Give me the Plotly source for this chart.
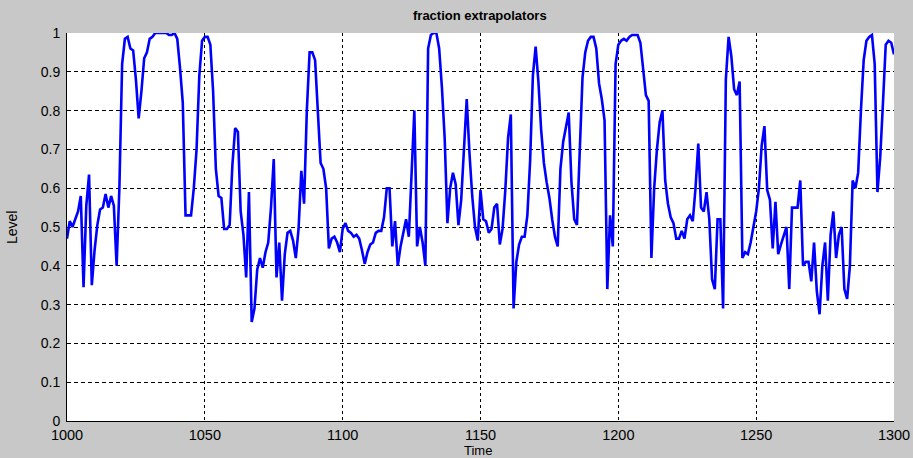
import numpy as np
import plotly.graph_objects as go

# ---- data ----
time = list(range(1000, 1301))
level = [
    0.47, 0.515, 0.50, 0.52, 0.54, 0.58, 0.345, 0.555, 0.635, 0.35,      # 1000-1009
    0.44, 0.505, 0.545, 0.55, 0.585, 0.55, 0.58, 0.555, 0.40, 0.60,      # 1010-1019
    0.92, 0.985, 0.99, 0.96, 0.955, 0.88, 0.78, 0.85, 0.935, 0.95,       # 1020-1029
    0.985, 0.99, 1.0, 1.0, 1.0, 1.0, 1.0, 0.995, 0.995, 1.0,             # 1030-1039
    0.985, 0.91, 0.82, 0.53, 0.53, 0.53, 0.60, 0.70, 0.89, 0.98,         # 1040-1049
    0.99, 0.99, 0.97, 0.85, 0.65, 0.58, 0.575, 0.495, 0.495, 0.505,      # 1050-1059
    0.66, 0.755, 0.745, 0.54, 0.48, 0.37, 0.59, 0.255, 0.29, 0.39,       # 1060-1069
    0.42, 0.395, 0.435, 0.46, 0.55, 0.675, 0.37, 0.46, 0.31, 0.43,       # 1070-1079
    0.485, 0.49, 0.465, 0.42, 0.495, 0.645, 0.56, 0.80, 0.95, 0.95,      # 1080-1089
    0.93, 0.78, 0.665, 0.65, 0.60, 0.445, 0.47, 0.475, 0.46, 0.435,      # 1090-1099
    0.495, 0.51, 0.49, 0.485, 0.475, 0.48, 0.47, 0.44, 0.405, 0.435,     # 1100-1109
    0.455, 0.46, 0.485, 0.49, 0.49, 0.525, 0.60, 0.60, 0.45, 0.515,      # 1110-1119
    0.40, 0.45, 0.485, 0.52, 0.475, 0.66, 0.80, 0.45, 0.50, 0.46,        # 1120-1129
    0.40, 0.96, 0.995, 1.0, 1.0, 0.96, 0.86, 0.73, 0.51, 0.60,           # 1130-1139
    0.64, 0.61, 0.505, 0.57, 0.70, 0.83, 0.69, 0.58, 0.50, 0.465,        # 1140-1149
    0.595, 0.52, 0.515, 0.485, 0.495, 0.55, 0.56, 0.455, 0.495, 0.595,   # 1150-1159
    0.73, 0.79, 0.29, 0.41, 0.455, 0.475, 0.475, 0.53, 0.67, 0.89,       # 1160-1169
    0.965, 0.875, 0.75, 0.665, 0.615, 0.575, 0.52, 0.475, 0.45, 0.65,    # 1170-1179
    0.72, 0.755, 0.795, 0.615, 0.52, 0.505, 0.70, 0.885, 0.95, 0.98,     # 1180-1189
    0.99, 0.99, 0.96, 0.87, 0.83, 0.775, 0.34, 0.53, 0.45, 0.92,         # 1190-1199
    0.97, 0.98, 0.985, 0.98, 0.99, 0.995, 0.995, 0.995, 0.975, 0.91,     # 1200-1209
    0.84, 0.825, 0.42, 0.60, 0.70, 0.77, 0.80, 0.62, 0.56, 0.525,        # 1210-1219
    0.51, 0.47, 0.47, 0.49, 0.47, 0.52, 0.53, 0.515, 0.60, 0.715,        # 1220-1229
    0.55, 0.54, 0.59, 0.52, 0.365, 0.34, 0.52, 0.52, 0.29, 0.88,         # 1230-1239
    0.99, 0.94, 0.855, 0.84, 0.875, 0.42, 0.435, 0.43, 0.46, 0.50,       # 1240-1249
    0.54, 0.60, 0.71, 0.76, 0.595, 0.57, 0.445, 0.565, 0.43, 0.455,      # 1250-1259
    0.48, 0.50, 0.34, 0.55, 0.55, 0.55, 0.62, 0.40, 0.41, 0.41,          # 1260-1269
    0.36, 0.46, 0.335, 0.275, 0.40, 0.46, 0.31, 0.48, 0.54, 0.42,        # 1270-1279
    0.48, 0.50, 0.34, 0.315, 0.40, 0.62, 0.60, 0.64, 0.80, 0.93,         # 1280-1289
    0.98, 0.99, 0.995, 0.92, 0.59, 0.68, 0.82, 0.97, 0.98, 0.975,        # 1290-1299
    0.945,                                                               # 1300
]
x_ticks = [1000, 1050, 1100, 1150, 1200, 1250, 1300]
y_ticks = [0, 0.1, 0.2, 0.3, 0.4, 0.5, 0.6, 0.7, 0.8, 0.9, 1]
y_tick_labels = ["0", "0.1", "0.2", "0.3", "0.4", "0.5", "0.6", "0.7", "0.8", "0.9", "1"]
title_text = "fraction extrapolators"
x_title = "Time"
y_title = "Level"

assert len(level) == len(time)

fig = go.Figure()
fig.add_trace(go.Scatter(
    x=time, y=level, mode="lines",
    line=dict(color="#0000ff", width=2.6),
    showlegend=False, hoverinfo="x+y",
))

font_family = "Liberation Sans, Arial, sans-serif"
W, H = 913, 458
ML, MR, MT, MB = 67, 19, 33, 37
PW, PH = W - ML - MR, H - MT - MB


def px_to_paper(px, py):
    return (px - ML) / PW, (H - MB - py) / PH


fig.update_layout(
    width=W, height=H,
    paper_bgcolor="#c8c8c8",
    plot_bgcolor="#ffffff",
    margin=dict(l=ML, r=MR, t=MT, b=MB, autoexpand=False),
    font=dict(family=font_family, size=14, color="#000000"),
    showlegend=False,
)

tx, ty = px_to_paper(480, 16)
xx, xy = px_to_paper(478, 450.5)
yx, yy = px_to_paper(12, 228)
fig.add_annotation(text="<b>" + title_text + "</b>", x=tx, y=ty, xref="paper", yref="paper",
                   xanchor="center", yanchor="middle", showarrow=False,
                   font=dict(size=13, color="#000000"))
fig.add_annotation(text=x_title, x=xx, y=xy, xref="paper", yref="paper",
                   xanchor="center", yanchor="middle", showarrow=False, borderpad=0,
                   font=dict(size=13, color="#000000"))
fig.add_annotation(text=y_title, x=yx, y=yy, xref="paper", yref="paper",
                   xanchor="center", yanchor="middle", showarrow=False, textangle=-90,
                   font=dict(size=14, color="#000000"))

fig.update_xaxes(
    range=[1000, 1300], tickvals=x_ticks, ticktext=[str(v) for v in x_ticks],
    showgrid=True, gridcolor="#000000", gridwidth=1, griddash="3px,3px",
    showline=True, linecolor="#000000", linewidth=1, mirror=False,
    zeroline=False, ticks="", tickfont=dict(size=14.5, color="#000000"),
    automargin=False, ticklabelstandoff=1,
)
fig.update_yaxes(
    range=[0, 1], tickvals=y_ticks, ticktext=y_tick_labels,
    showgrid=True, gridcolor="#000000", gridwidth=1, griddash="4px,3px",
    showline=True, linecolor="#000000", linewidth=1, mirror=False,
    zeroline=False, ticks="", tickfont=dict(size=14, color="#000000"),
    automargin=False, ticklabelstandoff=3,
)

fig.write_html(
    "out.html",
    config={"displayModeBar": False},
    post_script="document.body.style.margin='0';document.body.style.background='#c8c8c8';",
)
